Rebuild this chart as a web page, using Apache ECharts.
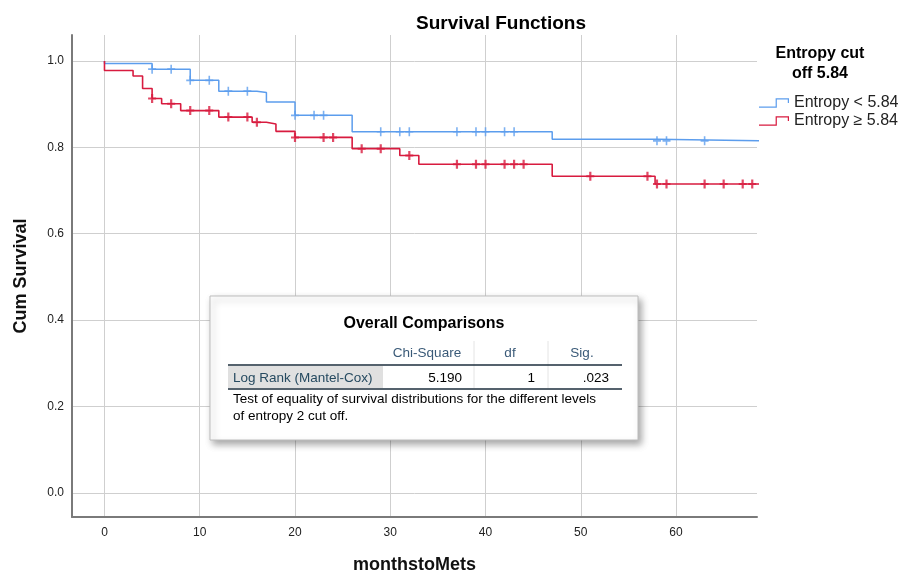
<!DOCTYPE html>
<html><head><meta charset="utf-8">
<script src="https://cdn.jsdelivr.net/npm/echarts@6/dist/echarts.min.js"></script>
<style>html,body{margin:0;padding:0;background:#fff}#c{width:898px;height:575px}</style>
</head><body><div id="c"></div>
<script>
// ---- data ----
const xTickValues = [0, 10, 20, 30, 40, 50, 60];
const yTickValues = [0, 0.2, 0.4, 0.6, 0.8, 1.0];
const groupNames = ['Entropy < 5.84', 'Entropy \u2265 5.84'];

// Entropy < 5.84 : step curve (time, cumulative survival)
const lowTimes = [0, 0, 5, 9, 12, 16, 17, 20, 26, 47, 58, 70];
const lowSurv  = [1, 0.994, 0.981, 0.955, 0.930, 0.927, 0.905, 0.874, 0.836, 0.819, 0.815, 0.815];
// Entropy < 5.84 : censored cases
const lowCensTimes = [5, 7, 9, 11, 13, 15, 20, 22, 23, 29, 31, 32, 37, 39, 40, 42, 43, 58, 59, 63];
const lowCensSurv  = [0.981, 0.981, 0.955, 0.955, 0.930, 0.930, 0.874, 0.874, 0.874, 0.836, 0.836, 0.836, 0.836, 0.836, 0.836, 0.836, 0.836, 0.815, 0.815, 0.815];

// Entropy >= 5.84 : step curve
const highTimes = [0, 0, 3, 4, 5, 6, 8, 12, 15.5, 17, 18, 20, 26, 31, 33, 47, 57.8, 70];
const highSurv  = [1, 0.978, 0.965, 0.936, 0.913, 0.901, 0.885, 0.870, 0.858, 0.854, 0.837, 0.823, 0.797, 0.781, 0.761, 0.733, 0.715, 0.715];
// Entropy >= 5.84 : censored cases
const highCensTimes = [5, 7, 9, 11, 13, 15, 16, 20, 23, 24, 27, 29, 32, 37, 39, 40, 42, 43, 44, 51, 57, 58, 59, 63, 65, 67, 68];
const highCensSurv  = [0.913, 0.901, 0.885, 0.885, 0.870, 0.870, 0.858, 0.823, 0.823, 0.823, 0.797, 0.797, 0.781, 0.761, 0.761, 0.761, 0.761, 0.761, 0.761, 0.733, 0.733, 0.715, 0.715, 0.715, 0.715, 0.715, 0.715];

// Overall comparisons table
const testNames = ['Log Rank (Mantel-Cox)'];
const chiSquare = ['5.190'];
const dfValues  = ['1'];
const sigValues = ['.023'];
const tableHeaders = ['Chi-Square', 'df', 'Sig.'];

// ---- chart ----
const FONT = '"Liberation Sans", Arial, sans-serif';
const BLUE = '#5c9ded';
const RED = '#d81b3f';
const zip = (a, b) => a.map((v, i) => [v, b[i]]);
const plusSym = 'path://M3.2,0H4.8V9H3.2Z M0,3.7H8V5.3H0Z';
const boldPlus = 'path://M2.9,0H5.1V9H2.9Z M0,3.5H8V5.5H0Z';
const legendIcon = 'path://M0,8.4H16.4V0.4H29.6V5H28.4V1.6H17.6V9.6H0Z';

const chart = echarts.init(document.getElementById('c'), null, {renderer: 'canvas'});

const g = []; // table graphics
const Z = 100;
const TF = '13.5px ' + FONT;
g.push({type: 'rect', z: Z, shape: {x: 210, y: 296, width: 428, height: 144},
  style: {fill: '#fff', stroke: '#bdbdbd', lineWidth: 1, shadowBlur: 7, shadowOffsetX: 3, shadowOffsetY: 4, shadowColor: 'rgba(0,0,0,0.35)'}});
g.push({type: 'text', z: Z, x: 424, y: 324, style: {text: 'Overall Comparisons', font: 'bold 16px ' + FONT, fill: '#000', align: 'center', verticalAlign: 'middle'}});
const hdrX = [427, 510, 582];
tableHeaders.forEach((h, i) => g.push({type: 'text', z: Z, x: hdrX[i], y: 353,
  style: {text: h, font: TF, fill: '#3a5a78', align: 'center', verticalAlign: 'middle'}}));
[474, 548].forEach(x => g.push({type: 'line', z: Z, shape: {x1: x, y1: 341, x2: x, y2: 388}, style: {stroke: '#e4e4e4', lineWidth: 1}}));
g.push({type: 'rect', z: Z, shape: {x: 228, y: 366, width: 155, height: 22}, style: {fill: '#e0e0e0'}});
g.push({type: 'line', z: Z + 1, shape: {x1: 228, y1: 365, x2: 622, y2: 365}, style: {stroke: '#1c2e3c', lineWidth: 1.4}});
g.push({type: 'line', z: Z + 1, shape: {x1: 228, y1: 389, x2: 622, y2: 389}, style: {stroke: '#1c2e3c', lineWidth: 1.4}});
testNames.forEach((n, r) => {
  const y = 378 + r * 22;
  g.push({type: 'text', z: Z + 1, x: 233, y: y, style: {text: n, font: TF, fill: '#264a60', align: 'left', verticalAlign: 'middle'}});
  g.push({type: 'text', z: Z + 1, x: 462, y: y, style: {text: chiSquare[r], font: TF, fill: '#000', align: 'right', verticalAlign: 'middle'}});
  g.push({type: 'text', z: Z + 1, x: 535, y: y, style: {text: dfValues[r], font: TF, fill: '#000', align: 'right', verticalAlign: 'middle'}});
  g.push({type: 'text', z: Z + 1, x: 609, y: y, style: {text: sigValues[r], font: TF, fill: '#000', align: 'right', verticalAlign: 'middle'}});
});
g.push({type: 'text', z: Z, x: 233, y: 399, style: {text: 'Test of equality of survival distributions for the different levels', font: TF, fill: '#000', align: 'left', verticalAlign: 'middle'}});
g.push({type: 'text', z: Z, x: 233, y: 416, style: {text: 'of entropy 2 cut off.', font: TF, fill: '#000', align: 'left', verticalAlign: 'middle'}});
// legend title
g.push({type: 'text', z: Z, x: 820, y: 64, style: {text: 'Entropy cut\noff 5.84', font: 'bold 16px ' + FONT, fill: '#000', align: 'center', verticalAlign: 'middle', lineHeight: 20}});

chart.setOption({
  animation: false,
  backgroundColor: '#fff',
  title: {text: 'Survival Functions', left: 496, top: 9, textAlign: 'center',
    textStyle: {fontFamily: FONT, fontSize: 19, fontWeight: 'bold', color: '#000'}},
  legend: {data: groupNames, orient: 'vertical', left: 759, top: 95, itemWidth: 30, itemHeight: 10, itemGap: 2,
    icon: legendIcon, textStyle: {fontFamily: FONT, fontSize: 16, lineHeight: 16, color: '#222'}, padding: 0},
  grid: {left: 72, right: 141, top: 35, bottom: 58, containLabel: false, outerBoundsMode: 'none'},
  xAxis: {
    type: 'value', min: -3.41, max: 68.5,
    name: 'monthstoMets', nameLocation: 'middle', nameGap: 39,
    nameTextStyle: {fontFamily: FONT, fontSize: 18, fontWeight: 'bold', color: '#111'},
    axisLine: {show: true, onZero: false, lineStyle: {color: '#7a7a7a', width: 2}},
    axisTick: {show: false, customValues: xTickValues},
    axisLabel: {customValues: xTickValues, margin: 10, fontFamily: FONT, fontSize: 12, color: '#222'},
    splitLine: {show: true, lineStyle: {color: '#cfcfcf', width: 1}}
  },
  yAxis: {
    type: 'value', min: -0.0556, max: 1.06,
    name: 'Cum Survival', nameLocation: 'middle', nameGap: 42, nameRotate: 90,
    nameTextStyle: {fontFamily: FONT, fontSize: 18, fontWeight: 'bold', color: '#111'},
    axisLine: {show: true, onZero: false, lineStyle: {color: '#7a7a7a', width: 2}},
    axisTick: {show: false, customValues: yTickValues},
    axisLabel: {customValues: yTickValues, margin: 8, fontFamily: FONT, fontSize: 12, color: '#222',
      formatter: v => v.toFixed(1)},
    splitLine: {show: true, lineStyle: {color: '#cfcfcf', width: 1}}
  },
  series: [
    {name: groupNames[0], type: 'line', step: 'end', data: zip(lowTimes, lowSurv), showSymbol: false, symbol: 'none',
      color: BLUE, lineStyle: {color: BLUE, width: 1.5}, clip: true, z: 3},
    {name: groupNames[1], type: 'line', step: 'end', data: zip(highTimes, highSurv), showSymbol: false, symbol: 'none',
      color: RED, lineStyle: {color: RED, width: 1.6}, clip: true, z: 3},
    {name: groupNames[0] + ' censored', type: 'scatter', data: zip(lowCensTimes, lowCensSurv), symbol: plusSym, symbolSize: [8, 9],
      itemStyle: {color: BLUE}, z: 4, silent: true},
    {name: groupNames[1] + ' censored', type: 'scatter', data: zip(highCensTimes, highCensSurv), symbol: boldPlus, symbolSize: [8, 9],
      itemStyle: {color: RED}, z: 4, silent: true}
  ],
  graphic: g
});
</script></body></html>
